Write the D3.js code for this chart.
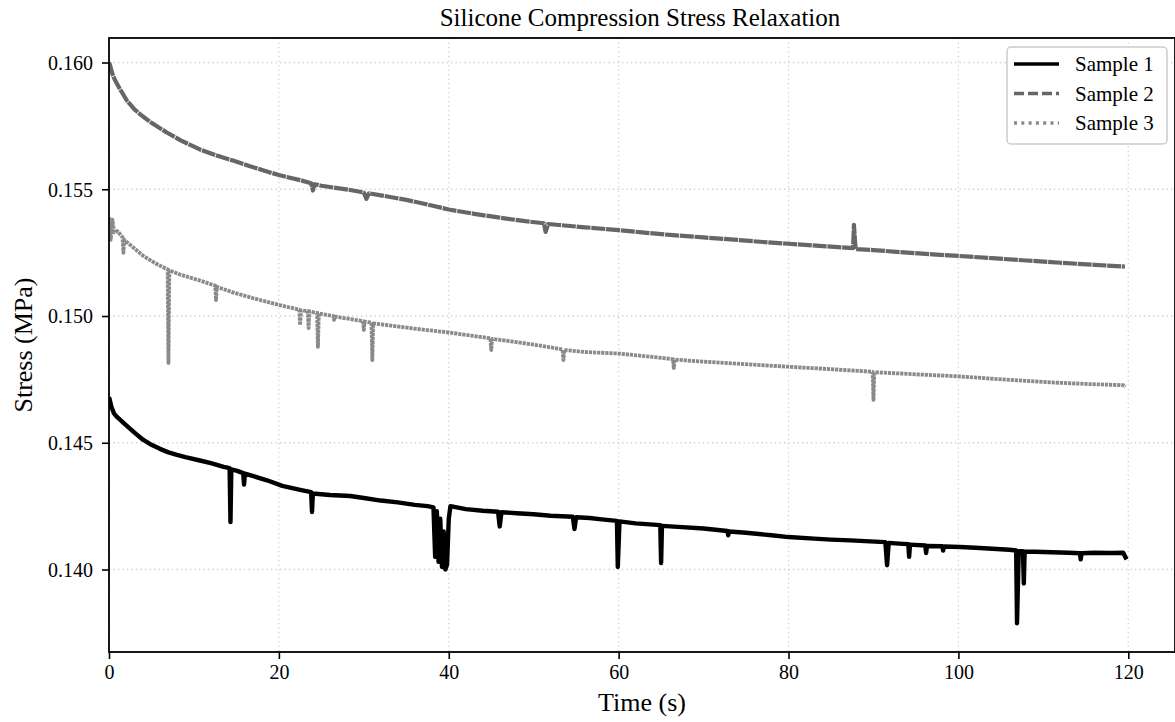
<!DOCTYPE html>
<html>
<head>
<meta charset="utf-8">
<script src="https://cdn.jsdelivr.net/npm/d3@7/dist/d3.min.js"></script>
<style>
  html, body { margin: 0; padding: 0; background: #fff; }
  svg { display: block; }
  text { font-family: "Liberation Serif", "Times New Roman", serif; fill: #000; }
</style>
</head>
<body>
<svg id="chart" width="1175" height="722"></svg>
<script>
// ---------- data ----------
const seriesNames = ["Sample 1", "Sample 2", "Sample 3"];
const xTicks = [0, 20, 40, 60, 80, 100, 120];
const yTicks = [0.140, 0.145, 0.150, 0.155, 0.160];
const xTickLabels = ["0", "20", "40", "60", "80", "100", "120"];
const yTickLabels = ["0.140", "0.145", "0.150", "0.155", "0.160"];

const s1Time = [0, 0.3, 0.6, 1.0, 2.0, 3, 4, 5, 6, 7, 8, 9, 10.7, 12, 13.5, 14.2, 14.3, 14.4, 15, 15.8, 15.9, 16, 17, 18.6, 20.4, 22.5, 23.8, 23.9, 24.0, 26, 28.4, 30, 32, 34, 36, 37.5, 38.2, 38.4, 38.6, 38.8, 39.0, 39.2, 39.4, 39.6, 39.8, 40.0, 40.2, 42, 44, 45.8, 46, 46.2, 48, 50, 52, 54.6, 54.8, 55, 56.6, 58, 59.8, 59.9, 60.1, 62, 64.9, 65, 65.1, 67, 70, 72.8, 72.9, 73.0, 75, 78, 80, 83, 85, 87.3, 89, 91.4, 91.6, 91.8, 93, 94.1, 94.2, 94.3, 96.1, 96.2, 96.3, 98.1, 98.2, 98.3, 100.2, 102, 104, 106, 106.8, 106.9, 107.1, 107.6, 107.7, 107.8, 109, 111, 113, 114.3, 114.4, 114.5, 116, 118, 119.4, 119.8];
const s1Stress = [0.14680, 0.14640, 0.14615, 0.14600, 0.14570, 0.14540, 0.14512, 0.14492, 0.14476, 0.14462, 0.14452, 0.14443, 0.14430, 0.14420, 0.14405, 0.14400, 0.14187, 0.14395, 0.14390, 0.14380, 0.14335, 0.14378, 0.14368, 0.14352, 0.14330, 0.14314, 0.14305, 0.14227, 0.14300, 0.14294, 0.14290, 0.14282, 0.14272, 0.14265, 0.14255, 0.14250, 0.14245, 0.14050, 0.14230, 0.14030, 0.14200, 0.14010, 0.14150, 0.14000, 0.14020, 0.14200, 0.14250, 0.14238, 0.14232, 0.14228, 0.14170, 0.14226, 0.14222, 0.14218, 0.14212, 0.14208, 0.14160, 0.14206, 0.14203, 0.14198, 0.14192, 0.14010, 0.14190, 0.14182, 0.14175, 0.14025, 0.14172, 0.14168, 0.14162, 0.14152, 0.14135, 0.14150, 0.14145, 0.14135, 0.14128, 0.14122, 0.14118, 0.14115, 0.14112, 0.14108, 0.14017, 0.14105, 0.14102, 0.14100, 0.14050, 0.14098, 0.14095, 0.14065, 0.14093, 0.14092, 0.14075, 0.14091, 0.14089, 0.14086, 0.14082, 0.14078, 0.14075, 0.13788, 0.14072, 0.14072, 0.13945, 0.14070, 0.14070, 0.14068, 0.14066, 0.14064, 0.14040, 0.14064, 0.14066, 0.14065, 0.14066, 0.14040];

const s2Time = [0, 0.12, 0.4, 0.7, 1.2, 2.1, 3, 4.0, 5, 6.8, 8.5, 10.7, 12.5, 14.6, 16.5, 18.6, 20, 22.5, 23.8, 24.0, 24.2, 25, 28.4, 30, 30.3, 30.6, 32, 35, 38, 40, 43, 46, 49, 51.2, 51.4, 51.7, 53, 56, 60, 63, 66, 70, 74, 77, 80, 84, 87.6, 87.7, 87.8, 87.9, 90, 94, 97, 100, 104, 108, 112, 116, 119.6];
const s2Stress = [0.16000, 0.15990, 0.15955, 0.15931, 0.15900, 0.15850, 0.15815, 0.15787, 0.15762, 0.15724, 0.15692, 0.15657, 0.15635, 0.15613, 0.15592, 0.15570, 0.15556, 0.15536, 0.15524, 0.15495, 0.15520, 0.15514, 0.15497, 0.15487, 0.15462, 0.15484, 0.15476, 0.15458, 0.15436, 0.15420, 0.15403, 0.15388, 0.15374, 0.15366, 0.15332, 0.15363, 0.15359, 0.15350, 0.15339, 0.15329, 0.15320, 0.15310, 0.15300, 0.15292, 0.15285, 0.15276, 0.15268, 0.15360, 0.15310, 0.15264, 0.15260, 0.15250, 0.15243, 0.15237, 0.15228, 0.15219, 0.15210, 0.15202, 0.15195];

const s3Time = [0, 0.2, 0.4, 0.6, 1.0, 1.6, 1.7, 1.8, 2.8, 4, 5.5, 6.9, 7.0, 7.1, 8.5, 10.7, 12.5, 12.6, 12.7, 14.6, 17, 20.1, 22.4, 22.5, 22.6, 23.4, 23.5, 23.6, 24.5, 24.6, 24.7, 26.4, 26.5, 26.6, 28.4, 29.9, 30.0, 30.1, 30.9, 31.0, 31.1, 33, 36, 40, 44.9, 45.0, 45.1, 48, 51, 53.4, 53.5, 53.6, 56, 60, 63, 66.4, 66.5, 66.6, 70, 75, 80, 85, 89.9, 90.0, 90.1, 90.3, 95, 100, 103, 107, 111, 115, 119.4, 119.7];
const s3Stress = [0.15390, 0.15300, 0.15380, 0.15330, 0.15335, 0.15310, 0.15249, 0.15300, 0.15272, 0.15238, 0.15207, 0.15184, 0.14815, 0.15180, 0.15162, 0.15140, 0.15120, 0.15063, 0.15115, 0.15093, 0.15070, 0.15043, 0.15025, 0.14964, 0.15022, 0.15020, 0.14952, 0.15018, 0.15012, 0.14878, 0.15010, 0.15000, 0.14985, 0.14998, 0.14988, 0.14980, 0.14945, 0.14978, 0.14974, 0.14826, 0.14971, 0.14963, 0.14950, 0.14935, 0.14912, 0.14866, 0.14910, 0.14897, 0.14882, 0.14868, 0.14826, 0.14866, 0.14858, 0.14852, 0.14842, 0.14830, 0.14795, 0.14828, 0.14820, 0.14810, 0.14800, 0.14790, 0.14780, 0.14669, 0.14776, 0.14778, 0.14770, 0.14762, 0.14755, 0.14746, 0.14738, 0.14732, 0.14727, 0.14722];

// ---------- layout ----------
const W = 1175, H = 722;
const plot = { left: 109, top: 38, right: 1175, bottom: 652 };
const xDomain = [0, 125.5];
const yDomain = [0.136746, 0.160967];

const svg = d3.select("#chart");
const x = d3.scaleLinear().domain(xDomain).range([plot.left, plot.right]);
const y = d3.scaleLinear().domain(yDomain).range([plot.bottom, plot.top]);

svg.append("defs").append("clipPath").attr("id", "clip")
  .append("rect").attr("x", plot.left).attr("y", plot.top)
  .attr("width", plot.right - plot.left).attr("height", plot.bottom - plot.top);

// grid
const grid = svg.append("g").attr("class", "grid");
grid.selectAll("line.gx").data(xTicks).join("line")
  .attr("x1", d => x(d)).attr("x2", d => x(d))
  .attr("y1", plot.top).attr("y2", plot.bottom)
  .attr("stroke", "#cfcfcf").attr("stroke-width", 1.3).attr("stroke-dasharray", "1.3,3.2");
grid.selectAll("line.gy").data(yTicks).join("line")
  .attr("y1", d => y(d)).attr("y2", d => y(d))
  .attr("x1", plot.left).attr("x2", plot.right)
  .attr("stroke", "#cfcfcf").attr("stroke-width", 1.3).attr("stroke-dasharray", "1.3,3.2");

// series
const styles = [
  { color: "#000000", dash: null, width: 4.4 },
  { color: "#666666", dash: "14,0.8", width: 4.2 },
  { color: "#8a8a8a", dash: "3.2,0.9", width: 3.8 }
];
const series = [
  { name: seriesNames[0], t: s1Time, v: s1Stress },
  { name: seriesNames[1], t: s2Time, v: s2Stress },
  { name: seriesNames[2], t: s3Time, v: s3Stress }
];
const line = d3.line().x(d => x(d[0])).y(d => y(d[1]));
const gLines = svg.append("g").attr("clip-path", "url(#clip)");
series.forEach((s, i) => {
  const pts = s.t.map((t, k) => [t, s.v[k]]);
  gLines.append("path").datum(pts)
    .attr("d", line)
    .attr("fill", "none")
    .attr("stroke", styles[i].color)
    .attr("stroke-width", styles[i].width)
    .attr("stroke-linejoin", "round")
    .attr("stroke-dasharray", styles[i].dash);
});

// axes
const xAxis = d3.axisBottom(x).tickValues(xTicks).tickFormat((d, i) => xTickLabels[i]).tickSize(7).tickPadding(6);
const yAxis = d3.axisLeft(y).tickValues(yTicks).tickFormat((d, i) => yTickLabels[i]).tickSize(7).tickPadding(9);
const gx = svg.append("g").attr("transform", `translate(0,${plot.bottom})`).call(xAxis);
const gy = svg.append("g").attr("transform", `translate(${plot.left},0)`).call(yAxis);
[gx, gy].forEach(g => {
  g.select(".domain").remove();
  g.selectAll(".tick line").attr("stroke", "#000").attr("stroke-width", 1.6);
  g.selectAll(".tick text").attr("font-family", "Liberation Serif, serif").attr("font-size", 20).attr("fill", "#000");
});
gy.selectAll(".tick text").attr("dy", "0.34em");

// spines
svg.append("rect").attr("x", plot.left).attr("y", plot.top)
  .attr("width", plot.right - plot.left).attr("height", plot.bottom - plot.top)
  .attr("fill", "none").attr("stroke", "#000").attr("stroke-width", 1.8);

// labels
svg.append("text").attr("x", 640).attr("y", 26).attr("text-anchor", "middle")
  .attr("font-size", 25).text("Silicone Compression Stress Relaxation");
svg.append("text").attr("x", (plot.left + plot.right) / 2).attr("y", 711).attr("text-anchor", "middle")
  .attr("font-size", 26).text("Time (s)");
svg.append("text").attr("transform", `translate(32,${(plot.top + plot.bottom) / 2}) rotate(-90)`)
  .attr("text-anchor", "middle").attr("font-size", 26).text("Stress (MPa)");

// legend
const lg = svg.append("g");
lg.append("rect").attr("x", 1007).attr("y", 47).attr("width", 160).attr("height", 97)
  .attr("rx", 4).attr("fill", "#fff").attr("fill-opacity", 0.85)
  .attr("stroke", "#cccccc").attr("stroke-width", 1.5);
const legendDash = [null, "10,4", "3,4.3"];
seriesNames.forEach((name, i) => {
  const ly = 64 + i * 29.5;
  lg.append("line").attr("x1", 1014).attr("x2", 1059).attr("y1", ly).attr("y2", ly)
    .attr("stroke", styles[i].color).attr("stroke-width", 3.6)
    .attr("stroke-dasharray", legendDash[i]);
  lg.append("text").attr("x", 1075).attr("y", ly + 7).attr("font-size", 21).text(name);
});
</script>
</body>
</html>
